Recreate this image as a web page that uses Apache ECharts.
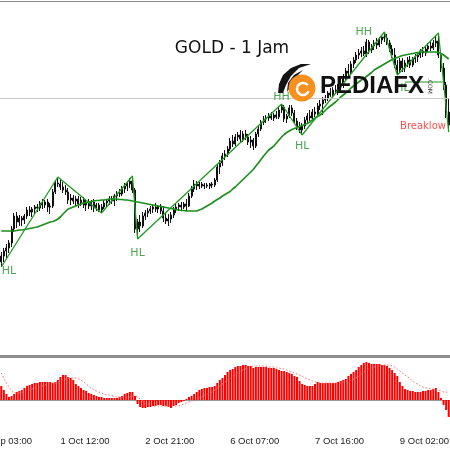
<!DOCTYPE html>
<html>
<head>
<meta charset="utf-8">
<script src="https://cdn.jsdelivr.net/npm/echarts@6/dist/echarts.min.js"></script>
<style>
html, body { margin: 0; padding: 0; background: #fff; }
#chart { width: 450px; height: 450px; }
</style>
</head>
<body>
<div id="chart"></div>
<script>
// GOLD H1 bars
const openP = [
  3838,3844,3849,3852,3857,3871,3884,3878,3882,3880,
  3884,3890,3888,3891,3893,3892,3897,3895,3898,3893,
  3894,3908,3917,3916,3913,3910,3908,3900,3902,3899,
  3901,3896,3900,3895,3897,3894,3898,3892,3895,3890,
  3893,3897,3899,3901,3899,3904,3907,3906,3911,3914,
  3916,3919,3910,3871,3878,3874,3884,3887,3889,3891,
  3893,3891,3894,3889,3882,3879,3881,3885,3890,3893,
  3895,3893,3896,3894,3904,3911,3916,3914,3916,3914,
  3915,3914,3916,3915,3920,3933,3937,3944,3946,3951,
  3959,3956,3963,3965,3961,3966,3963,3958,3960,3954,
  3966,3971,3978,3981,3982,3984,3982,3985,3983,3990,
  3993,3981,3984,3992,3987,3979,3973,3970,3974,3980,
  3984,3982,3988,3986,3994,3996,4000,4002,4007,4005,
  4010,4008,4013,4015,4023,4029,4027,4036,4040,4045,
  4047,4049,4046,4058,4050,4054,4057,4055,4060,4063,
  4062,4057,4051,4045,4035,4030,4039,4032,4037,4040,
  4035,4041,4043,4045,4049,4047,4051,4054,4052,4057,
  4059,4045,4032,4015,3988
];
const highP = [
  3848,3852,3856,3860,3874,3887,3888,3885,3884,3886,
  3893,3894,3893,3895,3896,3899,3901,3900,3901,3897,
  3911,3920,3923,3921,3918,3915,3912,3906,3905,3904,
  3904,3903,3903,3900,3901,3900,3901,3897,3897,3896,
  3900,3901,3904,3904,3906,3909,3911,3914,3917,3919,
  3922,3924,3912,3881,3885,3888,3890,3892,3894,3895,
  3897,3895,3896,3894,3887,3886,3888,3893,3896,3897,
  3898,3898,3901,3907,3914,3920,3919,3918,3918,3917,
  3917,3917,3918,3922,3936,3940,3947,3950,3954,3962,
  3965,3966,3968,3970,3969,3970,3966,3964,3962,3968,
  3974,3980,3984,3985,3987,3988,3987,3989,3993,3996,
  3995,3986,3995,3995,3990,3982,3978,3977,3983,3987,
  3990,3991,3993,3997,4000,4003,4005,4009,4012,4013,
  4015,4016,4018,4026,4032,4036,4039,4043,4048,4051,
  4053,4054,4061,4060,4056,4060,4062,4063,4065,4068,
  4066,4060,4055,4052,4040,4042,4042,4040,4043,4044,
  4043,4046,4048,4051,4053,4054,4057,4059,4060,4064,
  4067,4048,4037,4018,4002
];
const lowP = [
  3833,3838,3842,3847,3853,3868,3872,3874,3874,3876,
  3881,3884,3883,3886,3888,3889,3891,3892,3888,3886,
  3892,3906,3913,3910,3907,3905,3896,3895,3896,3894,
  3892,3894,3892,3889,3891,3890,3888,3889,3888,3887,
  3891,3893,3895,3896,3894,3899,3903,3904,3907,3909,
  3912,3907,3867,3861,3868,3872,3880,3883,3886,3887,
  3888,3887,3886,3878,3876,3874,3877,3882,3887,3889,
  3890,3891,3889,3893,3902,3908,3910,3911,3912,3911,
  3912,3911,3912,3913,3918,3926,3934,3940,3943,3949,
  3953,3954,3959,3957,3958,3960,3955,3952,3950,3952,
  3963,3969,3975,3977,3979,3980,3979,3981,3981,3987,
  3978,3977,3982,3984,3976,3970,3967,3965,3971,3976,
  3979,3980,3983,3984,3990,3985,3997,3999,4003,4002,
  4006,4005,4009,4012,4020,4024,4025,4032,4037,4041,
  4043,4044,4043,4046,4047,4050,4051,4053,4056,4058,
  4055,4048,4042,4032,4025,4027,4028,4028,4033,4032,
  4033,4037,4038,4042,4043,4044,4048,4049,4050,4053,
  4042,4028,4010,3982,3968
];
const closeP = [
  3844,3849,3852,3857,3871,3884,3878,3882,3880,3884,
  3890,3888,3891,3893,3892,3897,3895,3898,3893,3894,
  3908,3917,3916,3913,3910,3908,3900,3902,3899,3901,
  3896,3900,3895,3897,3894,3898,3892,3895,3890,3893,
  3897,3899,3901,3899,3904,3907,3906,3911,3914,3916,
  3919,3910,3871,3878,3874,3884,3887,3889,3891,3893,
  3891,3894,3889,3882,3879,3881,3885,3890,3893,3895,
  3893,3896,3894,3904,3911,3916,3914,3916,3914,3915,
  3914,3916,3915,3920,3933,3937,3944,3946,3951,3959,
  3956,3963,3965,3961,3966,3963,3958,3960,3954,3966,
  3971,3978,3981,3982,3984,3982,3985,3983,3990,3993,
  3981,3984,3992,3987,3979,3973,3970,3974,3980,3984,
  3982,3988,3986,3994,3996,4000,4002,4007,4005,4010,
  4008,4013,4015,4023,4029,4027,4036,4040,4045,4047,
  4049,4046,4058,4050,4054,4057,4055,4060,4063,4062,
  4057,4051,4045,4035,4030,4039,4032,4037,4040,4035,
  4041,4043,4045,4049,4047,4051,4054,4052,4057,4059,
  4045,4032,4015,3988,3975
];
// green moving average
const maP = [
  3869,3869,3869,3869,3869,3869,3869.5,3870,3870,3870.5,
  3871,3871.5,3872,3872.5,3873,3874,3875,3876,3877,3878,
  3878.5,3879.5,3881,3883,3886,3888.5,3891,3892,3893,3894,
  3895,3896,3897,3897.5,3898,3898.5,3899,3899.5,3899.5,3900,
  3900,3900.5,3901,3901,3901,3901,3900.5,3900.5,3900,3900,
  3899.5,3899,3898.5,3898,3897.5,3897,3896.5,3896,3895.5,3895,
  3894.5,3894,3893.5,3893,3892.5,3892,3891.5,3891,3890.5,3890,
  3889.5,3889.5,3889,3889,3889,3889,3889,3890,3891,3892.5,
  3894,3895.5,3897,3899,3900.5,3902,3904,3905.5,3907,3908.5,
  3911,3913,3915.5,3918,3920.5,3923,3925.5,3928,3930.5,3934,
  3937,3940.5,3944,3947,3950,3952,3954,3957,3960,3963,
  3965.5,3967.5,3969,3970.5,3971.5,3972.5,3973.5,3974.5,3975.5,3976.5,
  3978,3980,3982,3983.5,3985,3987,3989.5,3992,3994,3996,
  3998,4000.5,4003,4005,4007,4009.5,4012,4014,4016,4018,
  4020,4021.5,4023.5,4025.5,4027.5,4030,4031.5,4033,4034.5,4036,
  4037.5,4039,4040.5,4041.5,4042.5,4043.5,4044.5,4045,4045.5,4046,
  4046.5,4047,4047.5,4048,4048,4048,4048,4048,4048,4048,
  4047.5,4046.5,4045,4043,4041
];
// zigzag swing points (bar number, price)
const zzIdx = [0, 22, 39, 51, 53, 109, 117, 149, 154, 170, 174];
const zzVal = [3833, 3923, 3887, 3924, 3861, 3996, 3965, 4068, 4025, 4067, 3968];

// lower window: histogram and dotted signal
const macdHist = [
  7,5,3,1.5,2,3,4,4.5,5,6,
  7,7.5,8,8.5,8.5,9,9,9,9,9,
  8.5,9,10,11.5,12.5,12.5,11.5,11,10,8,
  7,6,5,4.5,3.5,3,2.5,2,1.5,1.5,
  1,1,1,1,1,1,1.5,2,3,3.5,
  4,4,2,-2,-3.5,-4,-4,-3.5,-3.5,-3,
  -3,-2.5,-2.5,-3,-3,-3.5,-4,-3,-2.5,-1.5,
  -1,-0.5,0.5,1.5,2,3,4,5,5.5,6,
  6,6.5,6.5,7,8.5,10,11,12.5,14,15,
  15.5,16.5,17,17,17.5,17.5,17,17,16,16.5,
  16.5,16.5,16.5,16.5,16,16,16,15.5,15,14.5,
  14.5,14,13.5,13,12,11.5,9.5,8,7.5,7,
  7,7,8,9,8.5,8.5,8.5,8.5,8.5,8.5,
  8.5,9,9.5,10,10.5,12,13,14,15,16.5,
  17.5,18.5,19,18.5,18,18,18,18,17.5,17.5,
  17,16,15,13.5,12,9,7,5.5,5,4.5,
  4.5,4,4,4,4.5,4.5,5,5,5.5,6,
  4,1,-2.5,-5,-8.5
];
const macdSignal = [
  13.5,11,8.5,6.5,4.5,3.5,3.5,3.5,4,4,
  4.5,5,5.5,6,6,6.5,7,7.5,8,8,
  8.5,8.5,9,9.5,10,10.5,11,11,11,11,
  10.5,10,9,8,7,6,5,4.5,4,3.5,
  3,2.5,2.5,2,2,1.5,1.5,1.5,1.5,1.5,
  1.5,2,2,1.5,0.5,-0.5,-1.5,-2,-2.5,-3,
  -3,-3,-3,-3,-3,-3,-3,-3,-3,-3,
  -2.5,-2,-1.5,-1,-0.5,0,0.5,1,1.5,2.5,
  3,3.5,4,5,6,7,8,9,10,10.5,
  11.5,12.5,13.5,14.5,15,15.5,16,16.5,17,17,
  17,17,17,17,16.5,16.5,16.5,16,16,15.5,
  15.5,15,14.5,14,13.5,13,12.5,12,11,10.5,
  10,9.5,9,9,8.5,8.5,8.5,8.5,8.5,8.5,
  8.5,8.5,8.5,9,9,9.5,10,10.5,11,12,
  13,14,15,15.5,16,16.5,17,17.5,17.5,17.5,
  17.5,17.5,17,16.5,15.5,14.5,13.5,12.5,11.5,10.5,
  9.5,8.5,8,7,6.5,6,6,5.5,5.5,5,
  5,4.5,4,4,3.5
];

const tickLabels = ['30 Sep 03:00', '1 Oct 12:00', '2 Oct 21:00', '6 Oct 07:00', '7 Oct 16:00', '9 Oct 02:00'];

// swing tags
const tagText = ['HL', 'HL', 'HH', 'HL', 'HH', 'HL'];
const tagIdx = [3, 53, 109, 117, 141, 156];
const tagVal = [3829, 3847, 4003, 3954, 4068, 4012];
const breakIdx = 164, breakVal = 3974;

const greyLevel = 4002;
const hlLevel = 4018, hlFrom = 157, hlTo = 172;

// ---- layout helpers ----
const PAD = 10;     // bars hidden left of the frame so the first date hangs off the edge
const STEP = 33;    // bars between time labels
const nBars = closeP.length;
const total = PAD + nBars;
const barPx = 450 / nBars;
const cats = [];
for (let k = 0; k < total; k++) cats.push(String(k));
const blank = new Array(PAD).fill('-');
const showTick = (idx) => idx % STEP === 0;

const candles = blank.concat(openP.map((o, i) => [o, closeP[i], lowP[i], highP[i]]));
const tags = tagIdx.map((k, j) => ({
  value: [k + PAD, tagVal[j]],
  label: { formatter: tagText[j] }
}));
tags.push({
  value: [breakIdx + PAD, breakVal],
  label: { formatter: 'Breaklow', color: '#ff1e1e', fontSize: 10 }
});

const myChart = echarts.init(document.getElementById('chart'));
myChart.setOption({
  animation: false,
  backgroundColor: '#ffffff',
  grid: [
    { left: -PAD * barPx, width: total * barPx, top: 1.5, height: 353.5, containLabel: false, outerBoundsMode: 'none' },
    { left: -PAD * barPx, width: total * barPx, top: 358, height: 73, containLabel: false, outerBoundsMode: 'none' }
  ],
  xAxis: [
    { type: 'category', gridIndex: 0, data: cats, show: false },
    {
      type: 'category', gridIndex: 1, data: cats,
      axisLine: { lineStyle: { color: '#9a9a9a', width: 1 } },
      axisTick: { alignWithLabel: true, interval: showTick, length: 3, lineStyle: { color: '#555' } },
      axisLabel: {
        interval: showTick,
        formatter: (v, idx) => tickLabels[idx / STEP],
        align: 'left', color: '#222', fontSize: 9.5,
        fontFamily: 'Liberation Sans', margin: 5
      },
      splitLine: { show: false }
    }
  ],
  yAxis: [
    { type: 'value', gridIndex: 0, min: 3745, max: 4098.5, show: false, splitLine: { show: false } },
    { type: 'value', gridIndex: 1, min: -15.5, max: 21, show: false, splitLine: { show: false } }
  ],
  series: [
    {
      type: 'candlestick', xAxisIndex: 0, yAxisIndex: 0,
      data: candles, barWidth: 1.5,
      itemStyle: { color: '#ffffff', color0: '#111111', borderColor: '#111111', borderColor0: '#111111', borderWidth: 1 },
      markLine: {
        silent: true, symbol: 'none', label: { show: false },
        lineStyle: { color: '#c8c8c8', width: 1, type: 'solid' },
        data: [{ yAxis: greyLevel }]
      }
    },
    {
      type: 'line', xAxisIndex: 0, yAxisIndex: 0,
      data: blank.concat(maP), showSymbol: false,
      lineStyle: { color: '#1d8f1d', width: 1.7 }, z: 3
    },
    {
      type: 'line', xAxisIndex: 0, yAxisIndex: 0,
      data: zzIdx.map((k, j) => [k + PAD, zzVal[j]]), showSymbol: false,
      lineStyle: { color: '#1f9b1f', width: 1.3 }, z: 4
    },
    {
      type: 'line', xAxisIndex: 0, yAxisIndex: 0,
      data: [[hlFrom + PAD, hlLevel], [hlTo + PAD, hlLevel]], showSymbol: false,
      lineStyle: { color: '#1f9b1f', width: 1.2 }, z: 4
    },
    {
      type: 'scatter', xAxisIndex: 0, yAxisIndex: 0,
      data: tags, symbolSize: 2, itemStyle: { color: 'rgba(0,0,0,0)' },
      label: { show: true, position: 'inside', color: '#1f9226', fontSize: 11, fontFamily: 'DejaVu Sans' },
      z: 5
    },
    {
      type: 'bar', xAxisIndex: 1, yAxisIndex: 1,
      data: blank.concat(macdHist), barWidth: 2,
      itemStyle: { color: '#ff0000' }
    },
    {
      type: 'line', xAxisIndex: 1, yAxisIndex: 1,
      data: blank.concat(macdSignal), showSymbol: false,
      lineStyle: { color: '#ff6b6b', width: 1, type: [1.5, 2] }, z: 4
    }
  ],
  graphic: [
    { type: 'line', z: 20, shape: { x1: 0, y1: 1.5, x2: 450, y2: 1.5 }, style: { stroke: '#8a8a8a', lineWidth: 1 } },
    { type: 'rect', z: 20, shape: { x: 0, y: 355, width: 450, height: 3 }, style: { fill: '#8e8e8e' } },
    {
      type: 'text', z: 20, x: 232, y: 49,
      style: { text: 'GOLD - 1 Jam', font: '17px "DejaVu Sans"', fill: '#111', textAlign: 'center', textVerticalAlign: 'middle' }
    },
    // watermark logo
    {
      type: 'polygon', z: 30,
      shape: { points: [[278, 93], [279, 84], [283, 75], [291, 68], [301, 64], [311, 64], [299, 68], [291, 76], [286, 85], [283, 93]] },
      style: { fill: '#141414' }
    },
    {
      type: 'polygon', z: 30,
      shape: { points: [[287, 92], [288, 83], [294, 75], [303, 70], [295, 78], [291, 86]] },
      style: { fill: '#141414' }
    },
    { type: 'circle', z: 31, shape: { cx: 302, cy: 88, r: 13.5 }, style: { fill: '#f7901e' } },
    {
      type: 'arc', z: 32, shape: { cx: 303, cy: 89, r: 6, startAngle: 0.4, endAngle: 5.6 },
      style: { stroke: '#ffffff', lineWidth: 2.5, fill: null }
    },
    {
      type: 'text', z: 33, x: 320, y: 86,
      style: { text: 'PEDIAFX', font: 'bold 24px "Liberation Sans"', fill: '#111', textAlign: 'left', textVerticalAlign: 'middle' }
    },
    {
      type: 'text', z: 33, x: 430, y: 86, rotation: -Math.PI / 2,
      style: { text: '.COM', font: '6px "DejaVu Sans"', fill: '#333', textAlign: 'center', textVerticalAlign: 'middle' }
    }
  ]
});
</script>
</body>
</html>
